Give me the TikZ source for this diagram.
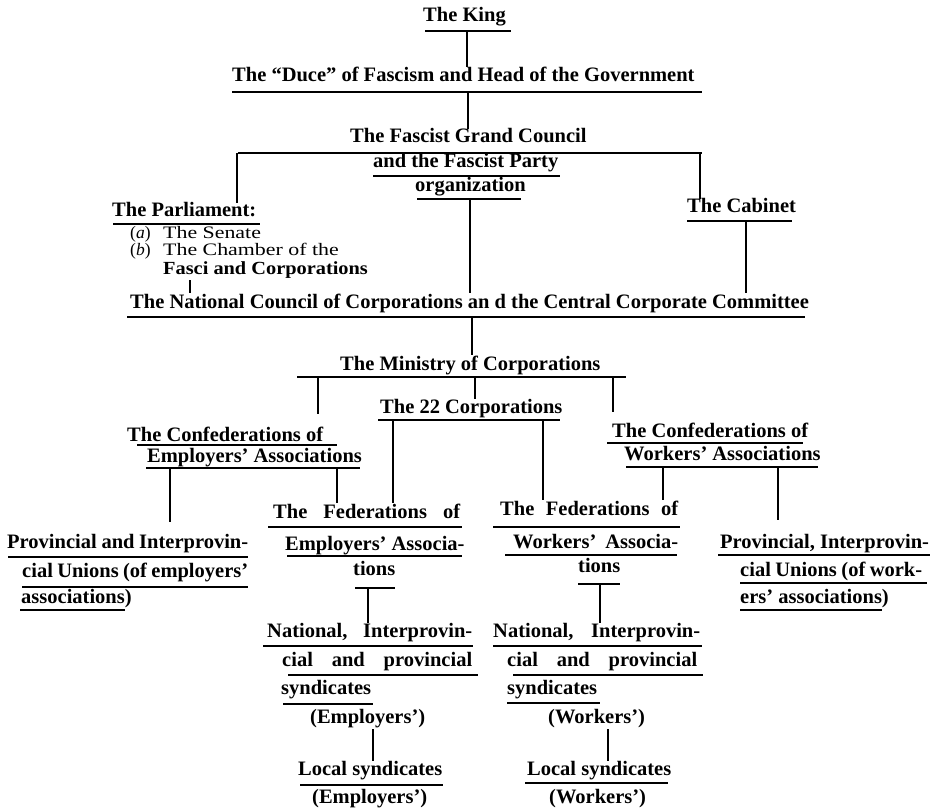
\documentclass[tikz,border=0pt]{standalone}
\usepackage{fontspec}
\setmainfont{Liberation Serif}
\newcommand{\chartfont}{\fontsize{20.5}{24}\selectfont\bfseries}
\newcommand{\notefont}{\fontsize{17.5}{20}\selectfont}
\newcommand{\smallbold}{\fontsize{18.5}{20}\selectfont\bfseries}
\newcommand{\justline}[2]{\makebox[#1pt][s]{#2}}
\begin{document}
\begin{tikzpicture}[x=1pt,y=-1pt,
  txt/.style={anchor=base west,inner sep=0pt,font=\chartfont},
  note/.style={anchor=base west,inner sep=0pt,font=\notefont},
  rule/.style={line width=2.6pt},
  link/.style={line width=2.5pt},
  tick/.style={line width=1.2pt}]
\useasboundingbox (0,0) rectangle (936,810);
\fill[white] (0,0) rectangle (936,810);
% the King and the Duce
\node[txt] (king) at (423,22) {The King};
\draw[rule] (425,31) -- (511,31);
\node[txt] (duce) at (232,82) {The “Duce” of Fascism and Head of the Government};
\draw[rule] (232,92) -- (702,92);
\coordinate (k1) at (467,31);
\draw[link] (k1) -- (k1 |- duce.north);
% grand council
\node[txt] (grand) at (350,143) {The Fascist Grand Council};
\draw[rule] (238,153) -- (702,153);
\coordinate (d1) at (468,92);
\draw[link] (d1) -- (d1 |- grand.north);
\node[txt] (party) at (373,168) {and the Fascist Party};
\draw[rule] (373,176) -- (560,176);
\node[txt] (organ) at (415,192) {organization};
\draw[rule] (417,199) -- (521,199);
% parliament
\node[txt] (parl) at (112,217) {The Parliament:};
\draw[rule] (113,224) -- (260,224);
\node[note] (senate) at (130,239) {\makebox[33pt][l]{(\textit{a})}\scalebox{1.25}[1]{The Senate}};
\node[note] (chamber) at (130,255.5) {\makebox[33pt][l]{(\textit{b})}\scalebox{1.25}[1]{The Chamber of the}};
\node[note,font=\smallbold] (fasci) at (163,274) {\scalebox{1.1}[1]{Fasci and Corporations}};
% cabinet
\node[txt] (cab) at (687,213) {The Cabinet};
\draw[rule] (687,221) -- (792,221);
\coordinate (g1) at (237,153);
\coordinate (g2) at (700,153);
\draw[link] (g1) -- (g1 |- parl.north);
\draw[link] (g2) -- (g2 |- cab.north);
% national council
\node[txt] (ncc) at (130,308) {The National Council of Corporations an d the Central Corporate Committee};
\draw[rule] (127,317) -- (805,317);
\coordinate (o1) at (470,199);
\draw[link] (o1) -- (o1 |- ncc.north);
\coordinate (c1) at (746,221);
\draw[link] (c1) -- (c1 |- ncc.north);
\coordinate (p1) at (190,280);
\draw[tick] (p1) -- (p1 |- ncc.north);
% ministry
\node[txt] (min) at (340,370) {The Ministry of Corporations};
\draw[rule] (297,377) -- (626,377);
\coordinate (n1) at (472,317);
\draw[link] (n1) -- (n1 |- min.north);
\node[txt] (corp) at (380,413) {The 22 Corporations};
\draw[rule] (378,420) -- (560,420);
\coordinate (m2) at (475,377);
\draw[link] (m2) -- (m2 |- corp.north);
% confederations
\node[txt] (confE) at (127,441) {The Confederations of};
\draw[rule] (137,445) -- (337,445);
\node[txt] (confEb) at (147,462) {Employers’ Associations};
\draw[rule] (146,468) -- (360,468);
\coordinate (m1) at (318,377);
\draw[link,shorten >=12pt] (m1) -- (m1 |- confE.north);
\node[txt] (confW) at (612,437) {The Confederations of};
\draw[rule] (607,443) -- (803,443);
\node[txt] (confWb) at (624,460) {Workers’ Associations};
\draw[rule] (626,467) -- (818,467);
\coordinate (m3) at (613,377);
\draw[link,shorten >=10pt] (m3) -- (m3 |- confW.north);
% federations
\node[txt] (fedE) at (273,518) {\justline{187}{The Federations of}};
\draw[rule] (268,527) -- (462,527);
\node[txt] (fedEb) at (285,550) {Employers’ Associa-};
\draw[rule] (287,556) -- (462,556);
\node[txt] (fedEc) at (353,575) {tions};
\draw[rule] (355,588) -- (395,588);
\coordinate (r1) at (393,420);
\draw[link] (r1) -- (r1 |- fedE.north);
\coordinate (e2) at (337,468);
\draw[link] (e2) -- (e2 |- fedE.north);
\node[txt] (fedW) at (500,515) {\justline{178}{The Federations of}};
\draw[rule] (493,527) -- (680,527);
\node[txt] (fedWb) at (513,548) {\justline{165}{Workers’ Associa-}};
\draw[rule] (505,555) -- (677,555);
\node[txt] (fedWc) at (578,572) {tions};
\draw[rule] (578,584) -- (620,584);
\coordinate (r2) at (543,420);
\draw[link] (r2) -- (r2 |- fedW.north);
\coordinate (w1) at (663,467);
\draw[link] (w1) -- (w1 |- fedW.north);
% provincial unions
\node[txt] (provE) at (7,548) {\justline{241}{Provincial and Interprovin-}};
\draw[rule] (8,557) -- (248,557);
\node[txt] (provEb) at (22,577) {\justline{226}{cial Unions (of employers’}};
\draw[rule] (22,587) -- (248,587);
\node[txt] (provEc) at (21,603) {associations)};
\draw[rule] (20,610) -- (125,610);
\coordinate (e1) at (170,468);
\draw[link,shorten >=12pt] (e1) -- (e1 |- provE.north);
\node[txt] (provW) at (720,548) {Provincial, Interprovin-};
\draw[rule] (718,555) -- (930,555);
\node[txt] (provWb) at (740,576) {\justline{182}{cial Unions (of work-}};
\draw[rule] (740,583) -- (927,583);
\node[txt] (provWc) at (740,603) {ers’ associations)};
\draw[rule] (740,610) -- (882,610);
\coordinate (w2) at (778,467);
\draw[link,shorten >=14pt] (w2) -- (w2 |- provW.north);
% syndicates (employers)
\node[txt] (natE) at (267,637) {\justline{205}{National, Interprovin-}};
\draw[rule] (263,646) -- (473,646);
\node[txt] (natEb) at (282,666) {\justline{190}{cial and provincial}};
\draw[rule] (288,675) -- (478,675);
\node[txt] (natEc) at (281,694) {syndicates};
\draw[rule] (283,704) -- (373,704);
\node[txt] (natEd) at (310,723) {(Employers’)};
\coordinate (t1) at (368,588);
\draw[link] (t1) -- (t1 |- natE.north);
\node[txt] (locE) at (298,775) {Local syndicates};
\draw[rule] (300,785) -- (443,785);
\node[txt] (locEb) at (312,803) {(Employers’)};
\coordinate (s1) at (373,729);
\draw[link] (s1) -- (s1 |- locE.north);
% syndicates (workers)
\node[txt] (natW) at (493,637) {\justline{207}{National, Interprovin-}};
\draw[rule] (493,646) -- (702,646);
\node[txt] (natWb) at (507,666) {\justline{190}{cial and provincial}};
\draw[rule] (513,675) -- (703,675);
\node[txt] (natWc) at (507,694) {syndicates};
\draw[rule] (507,703) -- (600,703);
\node[txt] (natWd) at (548,723) {(Workers’)};
\coordinate (t2) at (600,584);
\draw[link] (t2) -- (t2 |- natW.north);
\node[txt] (locW) at (527,775) {Local syndicates};
\draw[rule] (525,783) -- (668,783);
\node[txt] (locWb) at (549,803) {(Workers’)};
\coordinate (s2) at (608,729);
\draw[link] (s2) -- (s2 |- locW.north);
\end{tikzpicture}
\end{document}
